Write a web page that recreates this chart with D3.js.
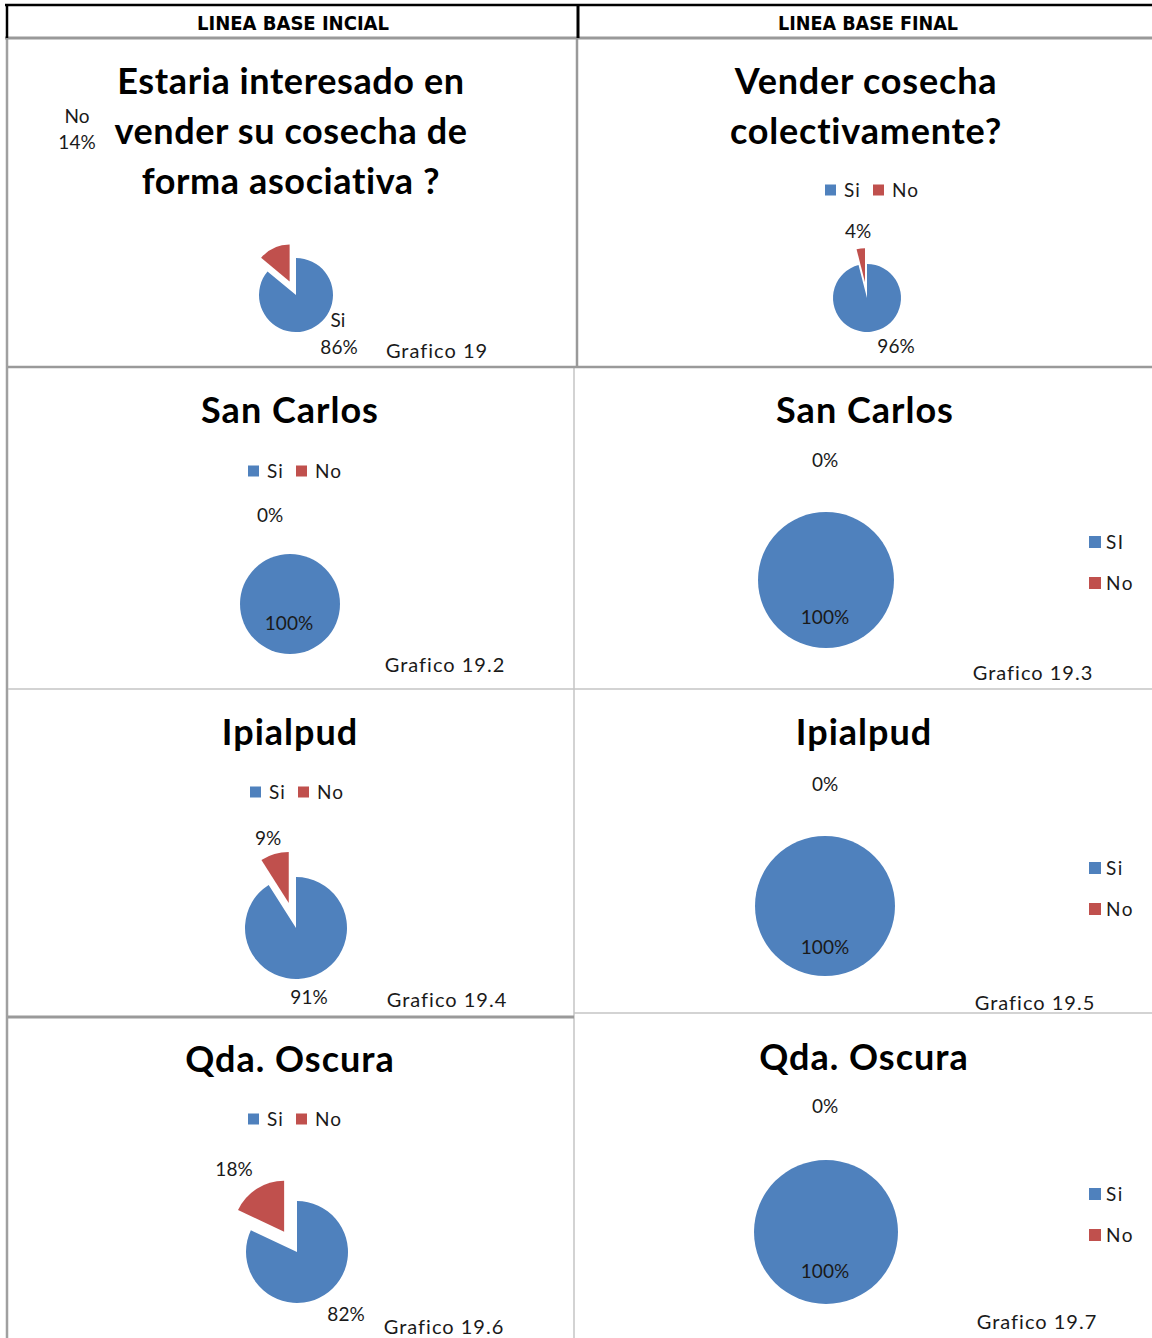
<!DOCTYPE html>
<html><head><meta charset="utf-8">
<script src="https://cdn.jsdelivr.net/npm/d3@7"></script>
<style>
html,body{margin:0;padding:0;background:#fff;}
svg{display:block;}
</style></head>
<body>
<svg id="chart" width="1152" height="1338"></svg>
<script>
// ---- data ----
const columnHeaders = ["LINEA BASE INCIAL", "LINEA BASE FINAL"];
const titles = [
  ["Estaria interesado en", "vender su cosecha de", "forma asociativa ?"],
  ["Vender cosecha", "colectivamente?"],
  ["San Carlos"], ["San Carlos"],
  ["Ipialpud"], ["Ipialpud"],
  ["Qda. Oscura"], ["Qda. Oscura"]
];
const categories = ["Si", "No"];
const legendNames = [null, ["Si","No"], ["Si","No"], ["SI","No"], ["Si","No"], ["Si","No"], ["Si","No"], ["Si","No"]];
const siValues = [86, 96, 100, 100, 91, 100, 82, 100];
const noValues = [14, 4, 0, 0, 9, 0, 18, 0];
const chartNames = ["Grafico 19", "", "Grafico 19.2", "Grafico 19.3", "Grafico 19.4", "Grafico 19.5", "Grafico 19.6", "Grafico 19.7"];
const colors = ["#4F81BD", "#C0504D"];

// ---- layout (positions only) ----
const layout = [
  {tx:291, ty:[81,131,181], ts:36, ls:0.6, cx:296, cy:295, r:37, ex:15, legend:null,
   siLab:[[338,320,"Si"],[339,347,null]], noLab:[[77,116,"No"],[77,142,null]], name:[437,351]},
  {tx:866, ty:[81,131], ts:36, ls:0.8, cx:867, cy:298, r:34, ex:16, legend:{type:"h", x:825, y:190},
   siLab:[[896,346,null]], noLab:[[858,231,null]], name:null},
  {tx:290, ty:[410], ts:36, ls:1, cx:290, cy:604, r:50, ex:0, legend:{type:"h", x:248, y:471},
   siLab:[[289,623,null]], noLab:[[270,515,null]], name:[445,665]},
  {tx:865, ty:[410], ts:36, ls:1, cx:826, cy:580, r:68, ex:0, legend:{type:"v", x:1089, y:542, gap:41},
   siLab:[[825,617,null]], noLab:[[825,460,null]], name:[1033,673]},
  {tx:290, ty:[732], ts:36, ls:1, cx:296, cy:928, r:51, ex:26, legend:{type:"h", x:250, y:792},
   siLab:[[309,997,null]], noLab:[[268,838,null]], name:[447,1000]},
  {tx:864, ty:[732], ts:36, ls:1, cx:825, cy:906, r:70, ex:0, legend:{type:"v", x:1089, y:868, gap:41},
   siLab:[[825,947,null]], noLab:[[825,784,null]], name:[1035,1003]},
  {tx:290, ty:[1059], ts:36, ls:1, cx:297, cy:1252, r:51, ex:24, legend:{type:"h", x:248, y:1119},
   siLab:[[346,1314,null]], noLab:[[234,1169,null]], name:[444,1327]},
  {tx:864, ty:[1057], ts:36, ls:1, cx:826, cy:1232, r:72, ex:0, legend:{type:"v", x:1089, y:1194, gap:41},
   siLab:[[825,1271,null]], noLab:[[825,1106,null]], name:[1037,1322]}
];

const svg = d3.select("#chart");
const font = "Lato, 'Open Sans', sans-serif";

// ---- table grid ----
const grid = svg.append("g");
function line(x1,y1,x2,y2,c,w){grid.append("line").attr("x1",x1).attr("y1",y1).attr("x2",x2).attr("y2",y2).attr("stroke",c).attr("stroke-width",w);}
const g1="#9a9a9a", g2="#c4c4c4";
line(7,38,7,1338,"#a0a0a0",2.5);
line(577,38,577,367,g1,2.5);
line(574,367,574,1338,g2,1.5);
line(8,367,577,367,g1,2.5);
line(577,367,1152,367,g1,2.5);
line(8,689,574,689,g2,1.5);
line(574,689,1152,689,g2,1.5);
line(8,1017,574,1017,g1,3);
line(574,1013,1152,1013,g2,1.5);
line(5,38,1152,38,"#999",3);
line(5,5,1152,5,"#000",2.5);
line(7,4,7,38,"#000",2.5);
line(578,4,578,38,"#000",3);

// headers
[[293,192],[868,180]].forEach(([x,w],i)=>{
  svg.append("text").attr("x",x).attr("y",30).attr("text-anchor","middle")
    .attr("font-family","'Liberation Sans Narrow','DejaVu Sans Condensed',sans-serif")
    .attr("font-weight","bold").attr("font-size",20)
    .attr("textLength",w).attr("lengthAdjust","spacingAndGlyphs")
    .text(columnHeaders[i]);
});

const pie = d3.pie().sort(null).value(d=>d.v);

layout.forEach((L,i)=>{
  const g = svg.append("g");
  // title
  titles[i].forEach((t,k)=>{
    g.append("text").attr("x",L.tx).attr("y",L.ty[k]).attr("dy","0.35em")
      .attr("text-anchor","middle").attr("font-family",font).attr("font-weight","bold")
      .attr("font-size",L.ts).attr("letter-spacing",L.ls).attr("fill","#000").text(t);
  });
  // pie
  const data = categories.map((c,j)=>({c, v: j===0 ? siValues[i] : noValues[i]}));
  const arcs = pie(data);
  const arc = d3.arc().innerRadius(0).outerRadius(L.r);
  const pg = g.append("g").attr("transform",`translate(${L.cx},${L.cy})`);
  arcs.forEach((a,j)=>{
    if (a.data.v<=0) return;
    let dx=0, dy=0;
    if (j===1 && L.ex>0){
      const mid=(a.startAngle+a.endAngle)/2;
      dx=Math.sin(mid)*L.ex; dy=-Math.cos(mid)*L.ex;
    }
    pg.append("path").attr("d",arc(a)).attr("fill",colors[j])
      .attr("transform",`translate(${dx},${dy})`);
  });
  // data labels
  const lab=(arr,val)=>arr.forEach(([x,y,name])=>{
    g.append("text").attr("x",x).attr("y",y).attr("dy","0.35em").attr("text-anchor","middle")
      .attr("font-family",font).attr("font-size",19).attr("fill","#1a1a1a")
      .text(name===null ? val+"%" : name);
  });
  lab(L.siLab, siValues[i]);
  lab(L.noLab, noValues[i]);
  // legend
  if (L.legend){
    const names = legendNames[i];
    if (L.legend.type==="h"){
      let x=L.legend.x;
      names.forEach((n,j)=>{
        g.append("rect").attr("x",x).attr("y",L.legend.y-5.5).attr("width",11).attr("height",11).attr("fill",colors[j]);
        g.append("text").attr("x",x+19).attr("y",L.legend.y).attr("dy","0.35em")
          .attr("font-family",font).attr("font-size",19).attr("fill","#1a1a1a").attr("letter-spacing",1).text(n);
        x += 48;
      });
    } else {
      names.forEach((n,j)=>{
        const y=L.legend.y + j*L.legend.gap;
        g.append("rect").attr("x",L.legend.x).attr("y",y-6).attr("width",12).attr("height",12).attr("fill",colors[j]);
        g.append("text").attr("x",L.legend.x+17).attr("y",y).attr("dy","0.35em")
          .attr("font-family",font).attr("font-size",19).attr("fill","#1a1a1a").attr("letter-spacing",1.5).text(n);
      });
    }
  }
  if (L.name && chartNames[i]){
    g.append("text").attr("x",L.name[0]).attr("y",L.name[1]).attr("dy","0.35em").attr("text-anchor","middle")
      .attr("font-family",font).attr("font-size",20).attr("fill","#1a1a1a").attr("letter-spacing",1)
      .text(chartNames[i]);
  }
});
</script>
</body></html>
